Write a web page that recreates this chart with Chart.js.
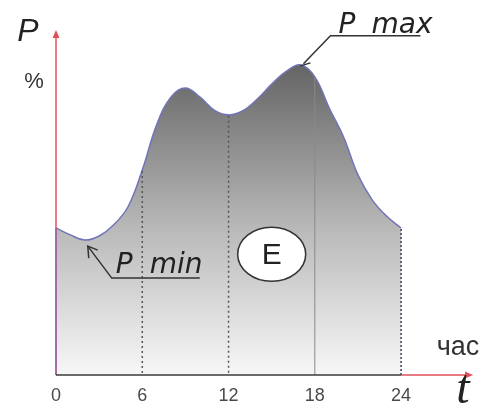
<!DOCTYPE html>
<html>
<head>
<meta charset="utf-8">
<script src="https://cdn.jsdelivr.net/npm/chart.js@4"></script>
<style>
  body { margin: 0; background: #fff; }
  canvas { display: block; }
</style>
</head>
<body>
<canvas id="loadChart" width="491" height="409"></canvas>
<script>
// часы суток и нагрузка P, %
var hours = [0,1,2,3,4,5,6,7,8,9,10,11,12,13,14,15,16,17,18,19,20,21,22,23,24]
var load = [42.6,40.6,39.1,40.3,43.5,48.7,59.4,72.5,80.6,83.2,80.6,76.8,75.4,76.6,80,84.3,88,89.9,86.4,77.4,69,58,50.7,46,42.6]
var tickHours = [0,6,12,18,24]
var markHours = [6,12,18,24]

var points = []
for (var i in hours) {
  points.push({x: hours[i], y: load[i]})
}

// стрелка в конце оси
function arrowHead(ctx, x, y, dir){
  ctx.save()
  ctx.translate(x, y)
  ctx.rotate(dir)
  ctx.beginPath()
  ctx.moveTo(0, 0)
  ctx.lineTo(-8, -3.5)
  ctx.lineTo(-8, 3.5)
  ctx.closePath()
  ctx.fill()
  ctx.restore()
}

var decorPlugin = {
  id: 'decor',
  afterDatasetsDraw(chart){
    var ctx = chart.ctx
    var xs = chart.scales.x, ys = chart.scales.y
    var x0 = xs.getPixelForValue(0)
    var y0 = ys.getPixelForValue(0)
    var x24 = xs.getPixelForValue(24)
    var xEnd = xs.getPixelForValue(xs.max)
    var yTop = ys.getPixelForValue(ys.max)
    var meta = chart.getDatasetMeta(0)

    ctx.save()
    // вертикальные линии 6, 12, 18, 24
    markHours.forEach(function(h){
      var idx = hours.indexOf(h)
      var px = xs.getPixelForValue(h)
      var top = meta.data[idx].y
      ctx.beginPath()
      if (h == 18) {
        ctx.setLineDash([])
        ctx.strokeStyle = '#8a8a8a'
        ctx.lineWidth = 1
      } else if (h == 24) {
        ctx.setLineDash([2, 2])
        ctx.strokeStyle = '#3c3c5a'
        ctx.lineWidth = 1.5
      } else {
        ctx.setLineDash([2, 3])
        ctx.strokeStyle = '#555'
        ctx.lineWidth = 1.5
      }
      ctx.moveTo(px, top + 1)
      ctx.lineTo(px, y0)
      ctx.stroke()
    })
    ctx.setLineDash([])

    // ось P
    ctx.strokeStyle = '#e0505a'
    ctx.fillStyle = '#e0505a'
    ctx.lineWidth = 1.5
    ctx.beginPath()
    ctx.moveTo(x0, y0)
    ctx.lineTo(x0, yTop + 4)
    ctx.stroke()
    arrowHead(ctx, x0, yTop, -Math.PI / 2)
    // левая граница площади
    ctx.strokeStyle = '#8a6ab0'
    ctx.beginPath()
    ctx.moveTo(x0, meta.data[0].y)
    ctx.lineTo(x0, y0)
    ctx.stroke()
    // ось t
    ctx.strokeStyle = '#3a3a3a'
    ctx.beginPath()
    ctx.moveTo(x0, y0)
    ctx.lineTo(x24, y0)
    ctx.stroke()
    ctx.strokeStyle = '#e0505a'
    ctx.beginPath()
    ctx.moveTo(x24, y0)
    ctx.lineTo(xEnd - 4, y0)
    ctx.stroke()
    arrowHead(ctx, xEnd, y0, 0)

    // подписи осей
    ctx.fillStyle = '#222'
    ctx.textAlign = 'center'
    ctx.textBaseline = 'middle'
    ctx.font = 'italic 32px "Liberation Sans"'
    ctx.fillText('P', 28, 32)
    ctx.font = '22px "Liberation Sans"'
    ctx.fillStyle = '#333'
    ctx.fillText('%', 34, 82)
    ctx.font = '27px "Liberation Sans"'
    ctx.fillText('час', 458, 348)
    ctx.font = 'italic 48px "Liberation Serif"'
    ctx.fillStyle = '#222'
    ctx.fillText('t', 463, 390)

    // P max
    var iMax = load.indexOf(Math.max.apply(null, load))
    var pMax = meta.data[iMax]
    ctx.strokeStyle = '#333'
    ctx.lineWidth = 1.5
    ctx.beginPath()
    ctx.moveTo(pMax.x + 3, pMax.y - 1)
    ctx.lineTo(pMax.x + 30, pMax.y - 29)
    ctx.lineTo(pMax.x + 120, pMax.y - 29)
    ctx.stroke()
    ctx.beginPath()
    ctx.moveTo(pMax.x, pMax.y + 1)
    ctx.lineTo(pMax.x + 10, pMax.y - 2)
    ctx.stroke()
    ctx.font = 'oblique 28px "DejaVu Sans"'
    ctx.fillStyle = '#222'
    ctx.textAlign = 'left'
    ctx.textBaseline = 'alphabetic'
    ctx.fillText('P', pMax.x + 38, pMax.y - 32)
    ctx.fillText('max', pMax.x + 71, pMax.y - 32)

    // P min
    var iMin = load.indexOf(Math.min.apply(null, load))
    var pMin = meta.data[iMin]
    var ax = pMin.x + 3, ay = pMin.y + 6
    ctx.beginPath()
    ctx.moveTo(ax, ay)
    ctx.lineTo(ax + 24, ay + 32)
    ctx.lineTo(ax + 112, ay + 32)
    ctx.stroke()
    ctx.beginPath()
    ctx.moveTo(ax + 1, ay + 12)
    ctx.lineTo(ax, ay)
    ctx.lineTo(ax + 10, ay + 4)
    ctx.stroke()
    ctx.fillText('P', ax + 28, ay + 27)
    ctx.fillText('min', ax + 62, ay + 27)

    // E
    var ex = xs.getPixelForValue(15), ey = ys.getPixelForValue(35)
    ctx.beginPath()
    ctx.ellipse(ex, ey, 34, 27, 0, 0, Math.PI * 2)
    ctx.fillStyle = '#fff'
    ctx.fill()
    ctx.strokeStyle = '#333'
    ctx.lineWidth = 1.5
    ctx.stroke()
    ctx.fillStyle = '#222'
    ctx.textAlign = 'center'
    ctx.textBaseline = 'middle'
    ctx.font = '30px "Liberation Sans"'
    ctx.fillText('E', ex, ey + 1)
    ctx.restore()
  }
}

var chart = new Chart('loadChart', {
  type: 'line',
  data: {
    datasets: [{
      data: points,
      borderColor: '#7274b8',
      borderWidth: 1.5,
      pointRadius: 0,
      tension: 0.4,
      fill: 'origin',
      backgroundColor: function(context){
        var area = context.chart.chartArea
        if (!area) return '#aaa'
        var g = context.chart.ctx.createLinearGradient(0, area.top + 30, 0, area.bottom)
        g.addColorStop(0, '#626262')
        g.addColorStop(0.55, '#bbbbbb')
        g.addColorStop(1, '#f7f7f7')
        return g
      }
    }]
  },
  options: {
    responsive: false,
    animation: false,
    layout: { padding: { left: 56, right: 18, top: 30, bottom: -7.6 } },
    plugins: { legend: { display: false }, tooltip: { enabled: false } },
    scales: {
      x: {
        type: 'linear',
        min: 0,
        max: 29,
        grid: { display: false, drawTicks: false },
        border: { display: false },
        afterBuildTicks: function(axis){
          axis.ticks = tickHours.map(function(v){ return {value: v} })
        },
        ticks: {
          padding: 10,
          color: '#4a4a4a',
          font: { family: 'Liberation Sans', size: 18 }
        }
      },
      y: {
        display: false,
        min: 0,
        max: 100
      }
    }
  },
  plugins: [decorPlugin]
})
</script>
</body>
</html>
